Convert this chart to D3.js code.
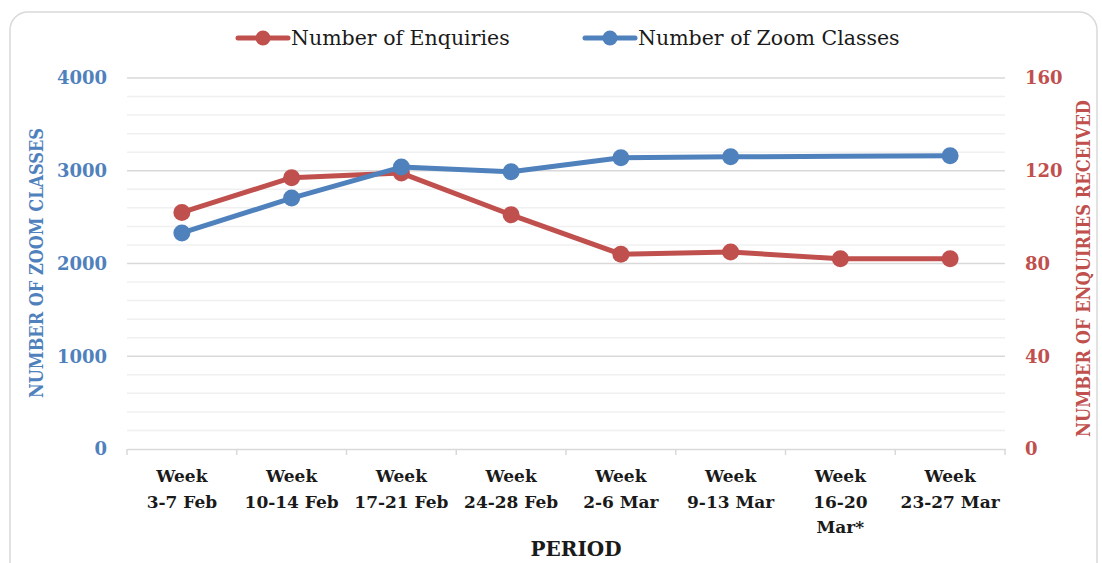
<!DOCTYPE html>
<html>
<head>
<meta charset="utf-8">
<script src="https://cdn.jsdelivr.net/npm/d3@7"></script>
<style>
  html, body { margin: 0; padding: 0; background: #ffffff; }
  svg { display: block; }
  text { font-family: "DejaVu Serif", "Liberation Serif", serif; }
</style>
</head>
<body>
<svg id="chart" width="1102" height="563"></svg>
<script>
// ---------- data ----------
const categories = [
  ["Week", "3-7 Feb"],
  ["Week", "10-14 Feb"],
  ["Week", "17-21 Feb"],
  ["Week", "24-28 Feb"],
  ["Week", "2-6 Mar"],
  ["Week", "9-13 Mar"],
  ["Week", "16-20", "Mar*"],
  ["Week", "23-27 Mar"]
];
const zoomClasses = [2330, 2705, 3040, 2990, 3140, 3150, 3157, 3162];
const zoomMarkers = [true, true, true, true, true, true, false, true];
const enquiries = [102, 117, 119, 101, 84, 85, 82, 82];
const leftTicks = [0, 1000, 2000, 3000, 4000];
const rightTicks = [0, 40, 80, 120, 160];

const seriesNames = ["Number of Enquiries", "Number of Zoom Classes"];
const blue = "#4F81BD", red = "#C0504D";

// ---------- layout ----------
const svg = d3.select("#chart");
const plot = { left: 127, right: 1005, top: 78, bottom: 449 };

svg.append("rect")
  .attr("x", 10).attr("y", 12).attr("width", 1087).attr("height", 620)
  .attr("rx", 18).attr("fill", "#fff").attr("stroke", "#d9d9d9").attr("stroke-width", 1.5);

const x = d3.scaleBand().domain(d3.range(categories.length)).range([plot.left, plot.right]);
const yL = d3.scaleLinear().domain([0, 4000]).range([plot.bottom, plot.top]);
const yR = d3.scaleLinear().domain([0, 160]).range([plot.bottom, plot.top]);

// minor gridlines
svg.append("g").selectAll("line").data(d3.range(200, 4000, 200).filter(v => v % 1000 !== 0))
  .join("line")
  .attr("x1", plot.left).attr("x2", plot.right)
  .attr("y1", d => yL(d)).attr("y2", d => yL(d))
  .attr("stroke", "#f0f0f0").attr("stroke-width", 1.5);
// major gridlines
svg.append("g").selectAll("line").data(leftTicks.filter(v => v > 0))
  .join("line")
  .attr("x1", plot.left).attr("x2", plot.right)
  .attr("y1", d => yL(d)).attr("y2", d => yL(d))
  .attr("stroke", "#d9d9d9").attr("stroke-width", 1.5);

// bottom axis
const xAxis = d3.axisBottom(x).tickSize(0).tickFormat("");
const gx = svg.append("g").attr("transform", `translate(0,${plot.bottom})`).call(xAxis);
gx.select(".domain").attr("stroke", "#d9d9d9").attr("stroke-width", 1.5);
const bounds = d3.range(categories.length + 1).map(i => i < categories.length ? x(i) : x(i - 1) + x.bandwidth());
gx.selectAll(".bt").data(bounds).join("line").attr("class", "bt")
  .attr("x1", d => d).attr("x2", d => d).attr("y1", 0).attr("y2", 6)
  .attr("stroke", "#d9d9d9").attr("stroke-width", 1.5);

// category labels
const catG = svg.append("g");
categories.forEach((lines, i) => {
  const t = catG.append("text")
    .attr("x", x(i) + x.bandwidth() / 2).attr("y", 482)
    .attr("text-anchor", "middle")
    .attr("font-size", 17).attr("font-weight", "bold").attr("fill", "#1a1a1a");
  lines.forEach((ln, j) => {
    t.append("tspan").attr("x", x(i) + x.bandwidth() / 2).attr("y", 482 + j * 25.5).text(ln);
  });
});

// left axis ticks
const gl = svg.append("g").attr("transform", `translate(${plot.left},0)`)
  .call(d3.axisLeft(yL).tickValues(leftTicks).tickSize(0).tickPadding(20).tickFormat(d3.format("d")));
gl.select(".domain").remove();
gl.selectAll("text").attr("font-size", 18).attr("font-weight", "bold").attr("fill", blue)
  .style("font-family", '"DejaVu Serif", serif');

// right axis ticks
const gr = svg.append("g").attr("transform", `translate(${plot.right},0)`)
  .call(d3.axisRight(yR).tickValues(rightTicks).tickSize(0).tickPadding(20).tickFormat(d3.format("d")));
gr.select(".domain").remove();
gr.selectAll("text").attr("font-size", 18).attr("font-weight", "bold").attr("fill", red)
  .style("font-family", '"DejaVu Serif", serif');

// axis titles
svg.append("text")
  .attr("transform", `translate(43,${(128 + 398) / 2}) rotate(-90)`)
  .attr("text-anchor", "middle").attr("font-size", 19).attr("font-weight", "bold")
  .attr("fill", blue).attr("textLength", 270).attr("lengthAdjust", "spacingAndGlyphs")
  .text("NUMBER OF ZOOM CLASSES");
svg.append("text")
  .attr("transform", `translate(1090,${(100 + 437) / 2}) rotate(-90)`)
  .attr("text-anchor", "middle").attr("font-size", 19).attr("font-weight", "bold")
  .attr("fill", red).attr("textLength", 337).attr("lengthAdjust", "spacingAndGlyphs")
  .text("NUMBER OF ENQUIRIES RECEIVED");
svg.append("text")
  .attr("x", 576).attr("y", 556).attr("text-anchor", "middle")
  .attr("font-size", 20).attr("font-weight", "bold").attr("fill", "#1a1a1a")
  .text("PERIOD");

// series
function drawSeries(values, yScale, color, markers) {
  const line = d3.line().x((d, i) => x(i) + x.bandwidth() / 2).y(d => yScale(d));
  svg.append("path").datum(values).attr("d", line)
    .attr("fill", "none").attr("stroke", color).attr("stroke-width", 5)
    .attr("stroke-linejoin", "round").attr("stroke-linecap", "round");
  svg.append("g").selectAll("circle")
    .data(values.map((v, i) => ({ v, i })).filter(d => markers[d.i]))
    .join("circle")
    .attr("cx", d => x(d.i) + x.bandwidth() / 2).attr("cy", d => yScale(d.v))
    .attr("r", 8.5).attr("fill", color);
}
drawSeries(enquiries, yR, red, enquiries.map(() => true));
drawSeries(zoomClasses, yL, blue, zoomMarkers);

// legend
const legend = [
  { name: seriesNames[0], color: red, x: 238 },
  { name: seriesNames[1], color: blue, x: 585 }
];
legend.forEach(l => {
  svg.append("line").attr("x1", l.x).attr("x2", l.x + 50).attr("y1", 38).attr("y2", 38)
    .attr("stroke", l.color).attr("stroke-width", 5).attr("stroke-linecap", "round");
  svg.append("circle").attr("cx", l.x + 25).attr("cy", 38).attr("r", 7.5).attr("fill", l.color);
  svg.append("text").attr("x", l.x + 53).attr("y", 45)
    .attr("font-size", 20.5).attr("fill", "#1a1a1a").text(l.name);
});
</script>
</body>
</html>
